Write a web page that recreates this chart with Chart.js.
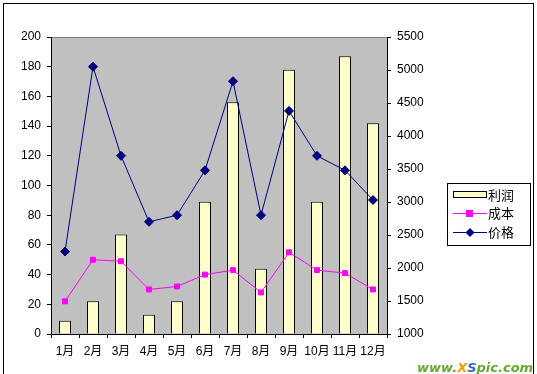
<!DOCTYPE html>
<html>
<head>
<meta charset="utf-8">
<script src="https://cdn.jsdelivr.net/npm/chart.js@4/dist/chart.umd.min.js"></script>
<style>
  html, body { margin: 0; padding: 0; background: #fff; }
  #wrap { width: 537px; height: 374px; }
</style>
</head>
<body>
<div id="wrap"><canvas id="myChart" width="537" height="374"></canvas></div>
<script>
// 月ごとのデータ
var months = ["1月", "2月", "3月", "4月", "5月", "6月", "7月", "8月", "9月", "10月", "11月", "12月"];
var profit = [9, 22, 67, 13, 22, 89, 156, 44, 178, 89, 187, 142];
var cost = [22, 50, 49, 30, 32, 40, 43, 28, 55, 43, 41, 30];
var price = [2250, 5050, 3700, 2700, 2800, 3480, 4830, 2800, 4380, 3700, 3480, 3030];

var FONT = '"Liberation Sans", Arial, "Noto Sans CJK SC", sans-serif';

/**
 * 背景・外枠・凡例・透かし文字を描くプラグイン
 */
var decorPlugin = {
    id: 'decor',
    beforeDraw: function (chart) {
        var c = chart.ctx;
        var a = chart.chartArea;
        c.save();
        c.fillStyle = '#ffffff';
        c.fillRect(0, 0, chart.width, chart.height);
        // 外枠
        c.strokeStyle = '#000000';
        c.lineWidth = 1;
        c.strokeRect(3.5, 3.5, 530, 400);
        // プロットエリア
        c.fillStyle = '#c0c0c0';
        c.fillRect(a.left, a.top, a.right - a.left, a.bottom - a.top);
        c.strokeStyle = '#808080';
        c.beginPath();
        c.moveTo(a.left, a.top + 0.5);
        c.lineTo(a.right, a.top + 0.5);
        c.stroke();
        c.restore();
    },
    afterDraw: function (chart) {
        var c = chart.ctx;
        c.save();
        // 凡例
        c.fillStyle = '#ffffff';
        c.fillRect(447, 183, 84, 63);
        c.strokeStyle = '#000000';
        c.lineWidth = 1;
        c.strokeRect(447.5, 183.5, 83, 62);
        c.font = '13px "Noto Sans CJK SC", sans-serif';
        c.textBaseline = 'middle';
        c.textAlign = 'left';
        // 利润
        c.fillStyle = '#ffffcc';
        c.fillRect(453, 191, 34, 7);
        c.strokeRect(453.5, 191.5, 33, 6);
        c.fillStyle = '#000000';
        c.fillText('利润', 488, 195);
        // 成本
        c.strokeStyle = '#ff00ff';
        c.beginPath();
        c.moveTo(453, 213.5);
        c.lineTo(487, 213.5);
        c.stroke();
        c.fillStyle = '#ff00ff';
        c.fillRect(466, 210, 7, 7);
        c.fillStyle = '#000000';
        c.fillText('成本', 488, 213);
        // 价格
        c.strokeStyle = '#000080';
        c.beginPath();
        c.moveTo(453, 232.5);
        c.lineTo(487, 232.5);
        c.stroke();
        c.fillStyle = '#000080';
        c.beginPath();
        c.moveTo(470, 228);
        c.lineTo(474.5, 232.5);
        c.lineTo(470, 237);
        c.lineTo(465.5, 232.5);
        c.closePath();
        c.fill();
        c.fillStyle = '#000000';
        c.fillText('价格', 488, 232);
        // 透かし
        c.font = 'italic bold 13px "DejaVu Sans", Verdana, sans-serif';
        c.textBaseline = 'alphabetic';
        var x = 417;
        var parts = [['www.', '#66a832'], ['X', '#ff9900'], ['S', '#3366cc'], ['pic.com', '#66a832']];
        parts.forEach(function (p) {
            c.fillStyle = p[1];
            c.fillText(p[0], x, 372);
            x += c.measureText(p[0]).width;
        });
        c.restore();
    }
};

var ctx = document.getElementById('myChart');
var myChart = new Chart(ctx, {
    type: 'bar',
    data: {
        labels: months,
        datasets: [{
            type: 'line',
            label: '价格',
            data: price,
            yAxisID: 'y2',
            borderColor: '#000080',
            backgroundColor: '#000080',
            borderWidth: 1,
            pointStyle: 'rectRot',
            pointRadius: 4.5,
            pointHoverRadius: 4.5,
            tension: 0,
            order: 1
        }, {
            type: 'line',
            label: '成本',
            data: cost,
            yAxisID: 'y',
            borderColor: '#ff00ff',
            backgroundColor: '#ff00ff',
            borderWidth: 1,
            pointStyle: 'rect',
            pointRadius: 3.5,
            pointHoverRadius: 3.5,
            tension: 0,
            order: 2
        }, {
            type: 'bar',
            label: '利润',
            data: profit,
            yAxisID: 'y',
            backgroundColor: '#ffffcc',
            borderColor: '#000000',
            borderWidth: 1,
            categoryPercentage: 1,
            barPercentage: 0.43,
            order: 3
        }]
    },
    options: {
        responsive: false,
        animation: false,
        layout: { padding: { left: 0, right: 100, top: 37, bottom: 10 } },
        plugins: {
            legend: { display: false },
            tooltip: { enabled: false }
        },
        scales: {
            x: {
                offset: true,
                grid: { display: true, offset: true, drawOnChartArea: false, drawTicks: true, tickLength: 4, color: '#000000' },
                border: { display: true, color: '#000000' },
                ticks: { color: '#000000', font: { family: FONT, size: 12 }, padding: 6, maxRotation: 0, autoSkip: false },
                afterFit: function (s) { s.height = 30; }
            },
            y: {
                position: 'left',
                min: 0,
                max: 200,
                ticks: { stepSize: 20, color: '#000000', font: { family: FONT, size: 12 }, padding: 6 },
                grid: { drawOnChartArea: false, drawTicks: true, tickLength: 4, color: '#000000' },
                border: { display: true, color: '#000000' },
                afterFit: function (s) { s.width = 51; }
            },
            y2: {
                position: 'right',
                min: 1000,
                max: 5500,
                ticks: {
                    stepSize: 500,
                    color: '#000000',
                    font: { family: FONT, size: 12 },
                    padding: 6,
                    callback: function (v) { return String(v); }
                },
                grid: { drawOnChartArea: false, drawTicks: true, tickLength: 4, color: '#000000' },
                border: { display: true, color: '#000000' },
                afterFit: function (s) { s.width = 50; }
            }
        }
    },
    plugins: [decorPlugin]
});
</script>
</body>
</html>
